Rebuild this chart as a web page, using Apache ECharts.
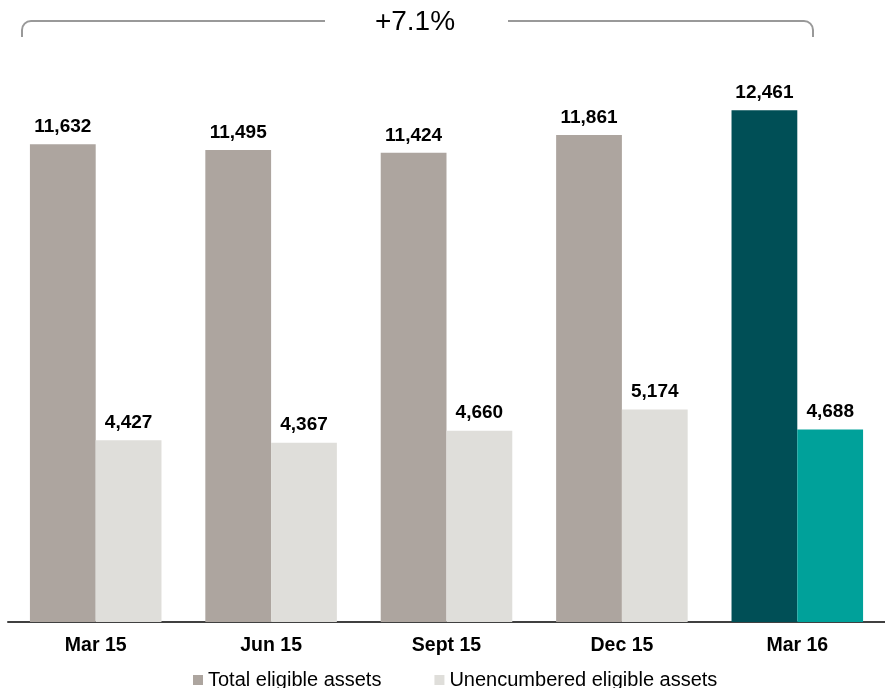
<!DOCTYPE html>
<html><head><meta charset="utf-8">
<script src="https://cdn.jsdelivr.net/npm/echarts@6/dist/echarts.min.js"></script>
<style>html,body{margin:0;padding:0;background:#fff}#c{width:885px;height:688px}</style>
</head><body><div id="c"></div>
<script>
const categories = ['Mar 15', 'Jun 15', 'Sept 15', 'Dec 15', 'Mar 16'];
const totalEligible = [11632, 11495, 11424, 11861, 12461];
const unencumbered = [4427, 4367, 4660, 5174, 4688];
const seriesNames = ['Total eligible assets', 'Unencumbered eligible assets'];
const growthLabel = '+7.1%';

const totalColor = '#ADA59F', unencColor = '#DFDEDA';
const hiTotal = '#004F56', hiUnenc = '#00A19A';
const last = categories.length - 1;
const FF = 'Liberation Sans, Arial, sans-serif';

const chart = echarts.init(document.getElementById('c'));
const fmt = p => p.value.toLocaleString('en-US');
const lbl = {show: true, position: 'top', formatter: fmt, color: '#000', fontWeight: 'bold', fontSize: 19, fontFamily: FF, distance: 8};
const br = {stroke: '#999', lineWidth: 2, fill: null};

chart.setOption({
  animation: false,
  textStyle: {fontFamily: FF},
  grid: {left: 8, right: 0, top: 6, bottom: 66},
  legend: {
    data: seriesNames, top: 665, left: 188, itemWidth: 10, itemHeight: 10, itemGap: 53,
    icon: 'rect', textStyle: {fontSize: 20, color: '#000', fontFamily: FF}
  },
  xAxis: {
    type: 'category', data: categories,
    axisLine: {lineStyle: {color: '#404040', width: 2}},
    axisTick: {show: false},
    axisLabel: {color: '#000', fontWeight: 'bold', fontSize: 19.5, margin: 14, fontFamily: FF}
  },
  yAxis: {type: 'value', min: 0, max: 15000, show: false, splitLine: {show: false}},
  series: [
    {name: seriesNames[0], type: 'bar', barGap: '0%', barCategoryGap: '25%', itemStyle: {color: totalColor},
     data: totalEligible.map((v, i) => i === last ? {value: v, itemStyle: {color: hiTotal}} : v), label: lbl},
    {name: seriesNames[1], type: 'bar', itemStyle: {color: unencColor},
     data: unencumbered.map((v, i) => i === last ? {value: v, itemStyle: {color: hiUnenc}} : v), label: lbl}
  ],
  graphic: [
    {type: 'line', shape: {x1: 22, y1: 30, x2: 22, y2: 37}, style: br},
    {type: 'arc', shape: {cx: 31, cy: 30, r: 9, startAngle: Math.PI, endAngle: Math.PI * 1.5, clockwise: true}, style: br},
    {type: 'line', shape: {x1: 31, y1: 21, x2: 325, y2: 21}, style: br},
    {type: 'line', shape: {x1: 508, y1: 21, x2: 804, y2: 21}, style: br},
    {type: 'arc', shape: {cx: 804, cy: 30, r: 9, startAngle: Math.PI * 1.5, endAngle: Math.PI * 2, clockwise: true}, style: br},
    {type: 'line', shape: {x1: 813, y1: 30, x2: 813, y2: 37}, style: br},
    {type: 'text', x: 415, y: 22, style: {text: growthLabel, fontSize: 28, fill: '#000', align: 'center', verticalAlign: 'middle', fontFamily: FF}}
  ]
});
</script></body></html>
